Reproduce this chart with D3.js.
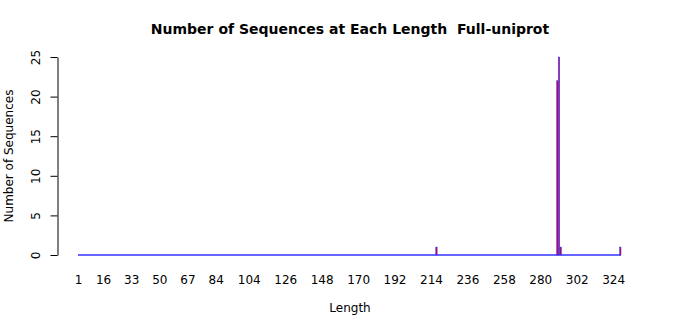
<!DOCTYPE html>
<html>
<head>
<meta charset="utf-8">
<script src="https://cdn.jsdelivr.net/npm/d3@7"></script>
<style>
  body { margin: 0; background: #fff; }
  text { font-family: "DejaVu Sans", sans-serif; fill: #000; }
</style>
</head>
<body>
<script>
// every length from 1 to the longest sequence gets a slot
var maxLength = 328;
var lengths = d3.range(1, maxLength + 1);

// only a handful of lengths have sequences
var seqLengths = [217, 290, 291, 292, 328];
var seqCounts = [1, 22, 25, 1, 1];

var xTickLabels = [1, 16, 33, 50, 67, 84, 104, 126, 148, 170, 192, 214, 236, 258, 280, 302, 324];
var yTicks = [0, 5, 10, 15, 20, 25];

var counts = lengths.map(function(l) {
    var i = seqLengths.indexOf(l);
    return i < 0 ? 0 : seqCounts[i];
});

var width = 700, height = 315;

var svg = d3.select("body").append("svg")
    .attr("width", width)
    .attr("height", height);

var x = d3.scaleBand()
    .domain(lengths)
    .range([78, 621])
    .paddingInner(1 / 6)
    .paddingOuter(0);

var y = d3.scaleLinear()
    .domain([0, 25])
    .range([255, 57]);

// title (keeps the double space)
svg.append("text")
    .attr("x", 350)
    .attr("y", 34)
    .attr("text-anchor", "middle")
    .style("font-weight", "bold")
    .style("font-size", "14px")
    .style("white-space", "pre")
    .text("Number of Sequences at Each Length  Full-uniprot");

// zero-height bars still draw their border, which makes the blue baseline
svg.append("line")
    .attr("x1", x(lengths[0]))
    .attr("x2", x(maxLength) + x.bandwidth())
    .attr("y1", y(0))
    .attr("y2", y(0))
    .attr("stroke", "#3333ff")
    .attr("stroke-width", 1.4);

svg.append("g")
    .selectAll("rect")
    .data(lengths.filter(function(l, i) { return counts[i] > 0; }))
    .enter().append("rect")
    .attr("x", function(d) { return x(d); })
    .attr("width", x.bandwidth())
    .attr("y", function(d) { return y(counts[d - 1]); })
    .attr("height", function(d) { return y(0) - y(counts[d - 1]); })
    .attr("fill", "#d0003a")
    .attr("stroke", "#3030ff")
    .attr("stroke-width", 0.5);

// y axis, R style: labels parallel to the axis
var yAxis = svg.append("g")
    .attr("transform", "translate(57.5,0)")
    .call(d3.axisLeft(y).tickValues(yTicks).tickSize(7).tickSizeOuter(0));
yAxis.select(".domain").attr("stroke", "#000");
yAxis.selectAll(".tick line").attr("stroke", "#000");
yAxis.selectAll(".tick text")
    .attr("x", null)
    .attr("dy", null)
    .attr("transform", "translate(-18,0) rotate(-90)")
    .attr("text-anchor", "middle")
    .style("font-size", "12px")
    .style("font-family", "DejaVu Sans, sans-serif");

// x labels sit under bar centres, no axis line
svg.append("g")
    .selectAll("text")
    .data(xTickLabels)
    .enter().append("text")
    .attr("x", function(d) { return x(d) + x.bandwidth() / 2; })
    .attr("y", 284)
    .attr("text-anchor", "middle")
    .style("font-size", "12px")
    .text(function(d) { return d; });

svg.append("text")
    .attr("x", 350)
    .attr("y", 312)
    .attr("text-anchor", "middle")
    .style("font-size", "12px")
    .text("Length");

svg.append("text")
    .attr("transform", "translate(13,156) rotate(-90)")
    .attr("text-anchor", "middle")
    .style("font-size", "12px")
    .text("Number of Sequences");
</script>
</body>
</html>
